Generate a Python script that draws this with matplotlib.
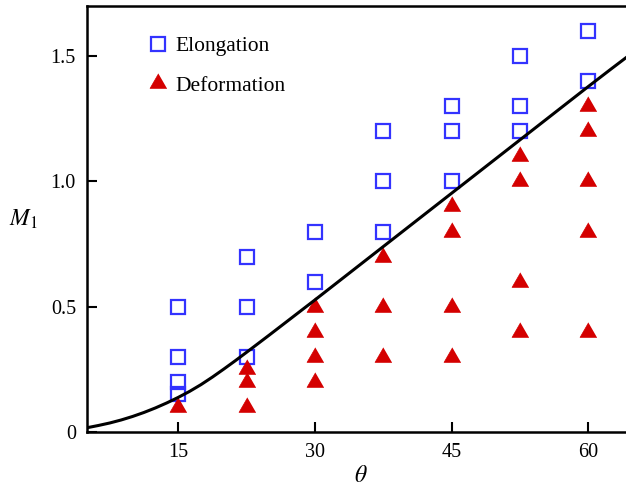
import numpy as np
import matplotlib.pyplot as plt
from matplotlib.lines import Line2D

plt.rcParams["font.family"] = ["Liberation Serif", "DejaVu Serif"]
plt.rcParams["mathtext.fontset"] = "stix"

# Elongation (open squares)
elong_theta = [15, 15, 15, 15, 22.5, 22.5, 22.5, 30, 30,
               37.5, 37.5, 37.5, 45, 45, 45, 52.5, 52.5, 52.5, 60, 60]
elong_m1 = [0.5, 0.3, 0.2, 0.15, 0.7, 0.5, 0.3, 0.8, 0.6,
            1.2, 1.0, 0.8, 1.3, 1.2, 1.0, 1.5, 1.3, 1.2, 1.6, 1.4]

# Deformation (filled triangles)
deform_theta = [15, 22.5, 22.5, 22.5, 30, 30, 30, 30,
                37.5, 37.5, 37.5, 45, 45, 45, 45,
                52.5, 52.5, 52.5, 52.5, 60, 60, 60, 60, 60]
deform_m1 = [0.1, 0.25, 0.2, 0.1, 0.5, 0.4, 0.3, 0.2,
             0.7, 0.5, 0.3, 0.9, 0.8, 0.5, 0.3,
             1.1, 1.0, 0.6, 0.4, 1.3, 1.2, 1.0, 0.8, 0.4]

# boundary curve
curve_theta = [5, 6.25, 7.5, 8.75, 10, 11.25, 12.5, 13.75, 15, 16.25, 17.5,
               18.75, 20, 21.25, 22.5, 25, 27.5, 30, 32.5, 35,
               37.5, 40, 42.5, 45, 47.5, 50, 52.5, 55, 57.5, 60, 62.5, 65]
curve_m1 = [0.017, 0.026, 0.036, 0.048, 0.062, 0.078, 0.096, 0.116, 0.138,
            0.162, 0.189, 0.219, 0.251, 0.284, 0.318, 0.387, 0.457, 0.527,
            0.598, 0.669, 0.740, 0.811, 0.882, 0.953, 1.024, 1.095, 1.166,
            1.237, 1.308, 1.379, 1.449, 1.518]

blue = "#3333ff"
red = "#d40000"
tri = [(0, 0.577), (-0.5, -0.289), (0.5, -0.289)]

fig = plt.figure(figsize=(6.26, 4.9), dpi=100)
ax = fig.add_axes([87 / 626, 58 / 490, (634 - 87) / 626, (432 - 6) / 490])

ax.plot(curve_theta, curve_m1, color="black", lw=2.2, zorder=3,
        solid_joinstyle="round")
ax.plot(elong_theta, elong_m1, ls="none", marker="s", ms=10.5, mfc="none",
        mec=blue, mew=1.6, zorder=2)
ax.plot(deform_theta, deform_m1, ls="none", marker=tri, ms=14, mfc=red,
        mec=red, mew=0.5, zorder=2)

ax.set_xlim(5, 65)
ax.set_ylim(0, 1.7)
ax.set_xticks([15, 30, 45, 60])
ax.set_yticks([0, 0.5, 1.0, 1.5])
ax.set_yticklabels(["0", "0.5", "1.0", "1.5"])
ax.tick_params(direction="in", length=7, width=1.5, labelsize=14.5, pad=8)
ax.tick_params(axis="x", pad=8)
for s in ax.spines.values():
    s.set_linewidth(1.8)

ax.set_xlabel(r"$\theta$", fontsize=17, labelpad=3)
ax.set_ylabel(r"$M_1$", fontsize=17, rotation=0, labelpad=20, va="center")

handles = [
    Line2D([], [], ls="none", marker="s", ms=9.5, mfc="none", mec=blue, mew=1.6),
    Line2D([], [], ls="none", marker=tri, ms=14, mfc=red, mec=red, mew=0.5),
]
ax.legend(handles, ["Elongation", "Deformation"], loc="upper left",
          bbox_to_anchor=(0.075, 0.975), frameon=False, fontsize=15.5,
          handletextpad=0.3, labelspacing=0.9, handlelength=1.0)

fig.savefig("out.png", dpi=100)
